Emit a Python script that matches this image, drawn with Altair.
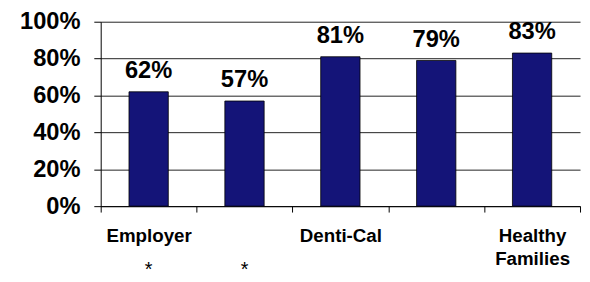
import json
import altair as alt
import pandas as pd

labels = ["Employer", "", "Denti-Cal", "", "Healthy Families"]
values = [62, 57, 81, 79, 83]
footnotes = ["*", "*", "", "", ""]
y_ticks = [0, 20, 40, 60, 80, 100]

df = pd.DataFrame({
    "pos": list(range(len(values))),
    "label": labels,
    "value": values,
    "note": footnotes,
})

FONT = "Liberation Sans"
label_expr = ("isNumber(datum.value) ? split(" + json.dumps(labels)
              + "[datum.value], ' ') : ''")

x = alt.X(
    "pos:O",
    scale=alt.Scale(paddingInner=0, paddingOuter=0),
    axis=alt.Axis(
        title=None, labelAngle=0, labelExpr=label_expr, tickBand="extent",
        tickSize=6, tickColor="black", domainColor="black", grid=False,
        labelFont=FONT, labelFontWeight="bold", labelFontSize=19,
        labelColor="black", labelBaseline="top", labelPadding=15,
        labelLineHeight=23, labelOverlap=False,
    ),
)
y = alt.Y(
    "value:Q",
    scale=alt.Scale(domain=[0, 100]),
    axis=alt.Axis(
        title=None, values=y_ticks, labelExpr="datum.value + '%'",
        tickSize=7, tickColor="black", domainColor="black", grid=True,
        gridColor="#222", labelFont=FONT, labelFontWeight="bold",
        labelFontSize=24, labelColor="black", labelPadding=14,
        labelOverlap=False, labelBaseline="middle",
    ),
)

base = alt.Chart(df)
bars = base.mark_bar(
    color="#141478", stroke="#000", strokeWidth=0.8,
    width=alt.RelativeBandSize(0.41),
).encode(x=x, y=y)

texts = base.transform_calculate(txt="datum.value + '%'").mark_text(
    font=FONT, fontWeight="bold", fontSize=24, baseline="alphabetic", dy=-14,
    color="black",
).encode(x=x, y=y, text="txt:N")

notes = base.mark_text(
    font=FONT, fontSize=20, baseline="middle", color="black",
).encode(x=x, y=alt.value(252), text="note:N")

H = 274
chart = alt.layer(bars, texts, notes).properties(
    width=486, height=187,
    autosize=alt.AutoSizeParams(type="none"),
    padding={"left": 94, "top": 12, "right": 2, "bottom": H - 12 - 187},
    background="white",
).configure_view(stroke=None)

chart.save("out.html", embed_options={"renderer": "svg", "actions": False})
